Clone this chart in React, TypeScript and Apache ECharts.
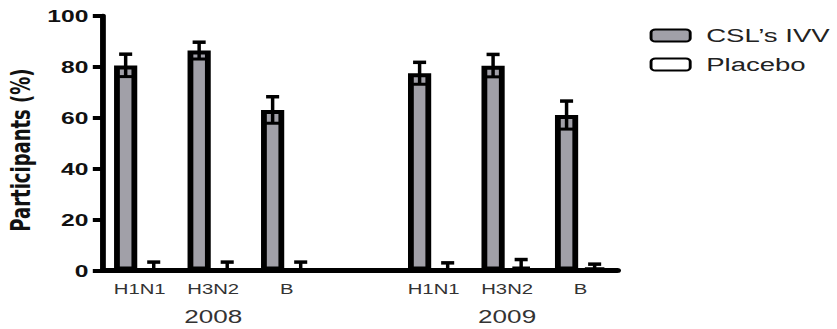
import React, { useEffect, useRef } from "react";
import * as echarts from "echarts";

const categories = ["H1N1", "H3N2", "B", "", "H1N1", "H3N2", "B"];
const yearLabels = ["", "2008", "", "", "", "2009", ""];
const ivv = [80.5, 86.3, 63.0, null, 77.4, 80.4, 61.0];
const ivvErr = [4.4, 3.3, 5.2, null, 4.3, 4.4, 5.5];
const placebo = [0, 0, 0, null, 0, 1.5, 1.0];
const placeboErr = [3.3, 3.3, 3.3, null, 3.0, 2.8, 1.5];
const yTicks = [0, 20, 40, 60, 80, 100];
const seriesNames = ["CSL\u2019s IVV", "Placebo"];

const S = 1.45; // horizontal stretch of the reference picture
const W = 837 / S;
const H = 329;
const FONT = "'Liberation Sans', Arial, Helvetica, sans-serif";
const BAR_W = 16;
const GAP = 0.21;
const OFFSET = (BAR_W + BAR_W * GAP) / 2;

function errorSeries(values: (number | null)[], errs: (number | null)[], side: number) {
  const data: number[][] = [];
  values.forEach((v, i) => {
    if (v !== null && errs[i] !== null) data.push([i, v, errs[i] as number]);
  });
  return {
    type: "custom",
    xAxisIndex: 0,
    yAxisIndex: 0,
    z: 10,
    silent: true,
    data,
    renderItem: (params: any, api: any) => {
      const idx = api.value(0);
      const val = api.value(1);
      const err = api.value(2);
      const base = api.coord([idx, val]);
      const x = base[0] + side * OFFSET;
      const yTop = api.coord([idx, val + err])[1];
      const low = Math.max(0, val - err);
      const yBot = api.coord([idx, low])[1];
      const capHalf = 4.5;
      const children: any[] = [
        { type: "line", shape: { x1: x, y1: yBot, x2: x, y2: yTop }, style: { stroke: "#000", lineWidth: 2.4 } },
        { type: "line", shape: { x1: x - capHalf, y1: yTop, x2: x + capHalf, y2: yTop }, style: { stroke: "#000", lineWidth: 3.5 } },
      ];
      if (val - err > 0) {
        children.push({ type: "line", shape: { x1: x - capHalf, y1: yBot, x2: x + capHalf, y2: yBot }, style: { stroke: "#000", lineWidth: 3 } });
      }
      return { type: "group", children };
    },
  };
}

export default function App() {
  const ref = useRef<HTMLDivElement>(null);
  useEffect(() => {
    if (!ref.current) return;
    const chart = echarts.init(ref.current, null, { renderer: "svg" });
    chart.setOption({
      animation: false,
      backgroundColor: "#fff",
      grid: {
        left: 71,
        right: W - 426,
        top: 15.7,
        bottom: 58.5,
        containLabel: false,
        outerBoundsMode: "none",
      },
      legend: {
        orient: "vertical",
        left: 443,
        top: 21,
        itemWidth: 27,
        itemHeight: 12,
        itemGap: 10,
        icon: "roundRect",
        data: seriesNames,
        textStyle: { fontFamily: FONT, fontSize: 19, color: "#222", padding: [0, 0, 0, 6] },
      },
      xAxis: [
        {
          type: "category",
          data: categories,
          position: "bottom",
          axisLine: { show: true, lineStyle: { color: "#000", width: 5 } },
          axisTick: { show: false },
          axisLabel: { interval: 0, margin: 12, fontFamily: FONT, fontSize: 14, color: "#333" },
        },
        {
          type: "category",
          data: yearLabels,
          position: "bottom",
          axisLine: { show: false },
          axisTick: { show: false },
          axisLabel: { interval: 0, margin: 37, fontFamily: FONT, fontSize: 18, color: "#333" },
        },
      ],
      yAxis: {
        type: "value",
        min: yTicks[0],
        max: yTicks[yTicks.length - 1],
        interval: 20,
        name: "Participants (%)",
        nameLocation: "middle",
        nameGap: 48,
        nameMoveOverlap: false,
        nameTextStyle: {
          fontFamily: "'DejaVu Sans', sans-serif",
          fontSize: 18,
          fontWeight: "bold",
          color: "#111",
          padding: [0, 14, 0, 0],
        },
        splitLine: { show: false },
        axisLine: { show: true, lineStyle: { color: "#000", width: 4 } },
        axisTick: { show: true, length: 7, lineStyle: { color: "#000", width: 4 } },
        axisLabel: { margin: 10, fontFamily: FONT, fontSize: 17, fontWeight: "bold", color: "#111" },
      },
      series: [
        {
          name: seriesNames[0],
          type: "bar",
          data: ivv,
          barWidth: BAR_W,
          barGap: GAP * 100 + "%",
          itemStyle: { color: "#a1a0a8", borderColor: "#000", borderWidth: 4 },
        },
        {
          name: seriesNames[1],
          type: "bar",
          data: placebo,
          barWidth: BAR_W,
          barGap: GAP * 100 + "%",
          itemStyle: { color: "#fff", borderColor: "#000", borderWidth: 4 },
        },
        errorSeries(ivv, ivvErr, -1),
        errorSeries(placebo, placeboErr, 1),
      ],
    });
    return () => chart.dispose();
  }, []);
  return (
    <div
      style={{
        position: "fixed",
        left: 0,
        top: 0,
        width: 837,
        height: H,
        overflow: "hidden",
        background: "#fff",
      }}
    >
      <div
        ref={ref}
        style={{
          width: W,
          height: H,
          transform: `scaleX(${S})`,
          transformOrigin: "0 0",
        }}
      />
    </div>
  );
}
